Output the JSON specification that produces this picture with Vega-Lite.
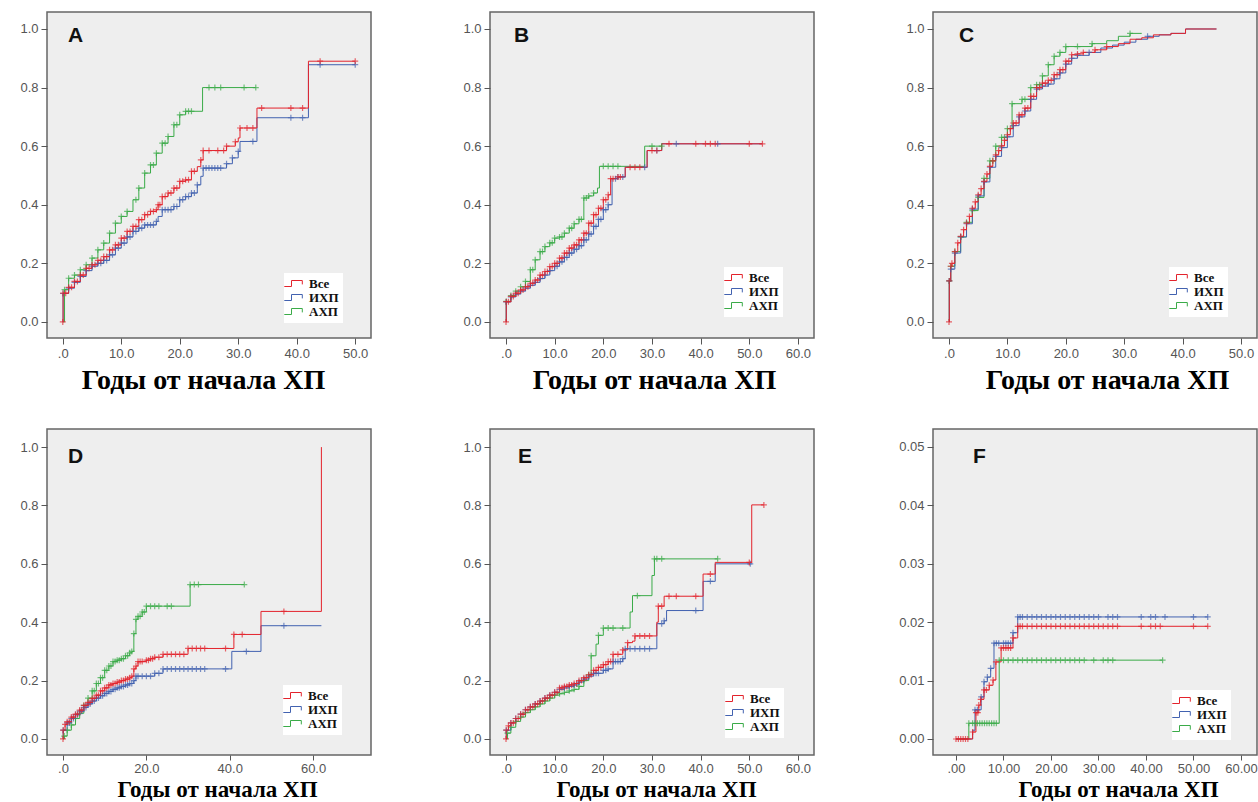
{
 "$schema": "https://vega.github.io/schema/vega-lite/v6.json",
 "background": "white",
 "padding": {"left": 19, "top": 11, "right": 0, "bottom": 0},
 "bounds": "flush",
 "columns": 3,
 "spacing": {"row": 91, "column": 119},
 "resolve": {"scale": {"color": "independent", "stroke": "independent"}, "legend": {"color": "independent", "stroke": "independent"}},
 "datasets": {
  "A": [
   {"g":"АХП","t":0,"p":0},{"g":"АХП","t":0.3,"p":0.11,"c":1},{"g":"АХП","t":1,"p":0.149,"c":1},{"g":"АХП","t":2,"p":0.16,"c":1},{"g":"АХП","t":3,"p":0.178,"c":1},{"g":"АХП","t":4,"p":0.195,"c":1},{"g":"АХП","t":5,"p":0.218,"c":1},{"g":"АХП","t":6,"p":0.246,"c":1},{"g":"АХП","t":7,"p":0.269,"c":1},{"g":"АХП","t":8,"p":0.303,"c":1},{"g":"АХП","t":9,"p":0.337,"c":1},{"g":"АХП","t":10,"p":0.36,"c":1},{"g":"АХП","t":11,"p":0.377,"c":1},{"g":"АХП","t":12,"p":0.417},{"g":"АХП","t":13,"p":0.457,"c":1},{"g":"АХП","t":14,"p":0.508,"c":1},{"g":"АХП","t":15,"p":0.536,"c":1},{"g":"АХП","t":16,"p":0.576,"c":1},{"g":"АХП","t":17,"p":0.61,"c":1},{"g":"АХП","t":18,"p":0.633,"c":1},{"g":"АХП","t":19,"p":0.673,"c":1},{"g":"АХП","t":20,"p":0.707,"c":1},{"g":"АХП","t":21,"p":0.719,"c":1},{"g":"АХП","t":22,"p":0.719,"c":1},{"g":"АХП","t":23.9,"p":0.8},{"g":"АХП","t":25,"p":0.8,"c":1},{"g":"АХП","t":26,"p":0.8,"c":1},{"g":"АХП","t":27,"p":0.8,"c":1},{"g":"АХП","t":31,"p":0.8,"c":1},{"g":"АХП","t":33,"p":0.8,"c":1},
   {"g":"АХП","t":12.5,"p":0.417,"c":1},{"g":"АХП","t":15.5,"p":0.536,"c":1},{"g":"АХП","t":17.5,"p":0.61,"c":1},{"g":"АХП","t":19.5,"p":0.673,"c":1},{"g":"АХП","t":21.5,"p":0.719,"c":1},
   {"g":"ИХП","t":0,"p":0},{"g":"ИХП","t":0.05,"p":0.097,"c":1},{"g":"ИХП","t":1,"p":0.115,"c":1},{"g":"ИХП","t":2,"p":0.135,"c":1},{"g":"ИХП","t":3,"p":0.155,"c":1},{"g":"ИХП","t":4,"p":0.175,"c":1},{"g":"ИХП","t":5,"p":0.19,"c":1},{"g":"ИХП","t":6,"p":0.2,"c":1},{"g":"ИХП","t":7,"p":0.21,"c":1},{"g":"ИХП","t":8,"p":0.229,"c":1},{"g":"ИХП","t":9,"p":0.252,"c":1},{"g":"ИХП","t":10,"p":0.269,"c":1},{"g":"ИХП","t":11,"p":0.29,"c":1},{"g":"ИХП","t":12,"p":0.309,"c":1},{"g":"ИХП","t":13,"p":0.32,"c":1},{"g":"ИХП","t":14,"p":0.331,"c":1},{"g":"ИХП","t":15,"p":0.331,"c":1},{"g":"ИХП","t":16,"p":0.343,"c":1},{"g":"ИХП","t":16.3,"p":0.36},{"g":"ИХП","t":17,"p":0.383,"c":1},{"g":"ИХП","t":18,"p":0.383,"c":1},{"g":"ИХП","t":19,"p":0.394,"c":1},{"g":"ИХП","t":20,"p":0.417,"c":1},{"g":"ИХП","t":21,"p":0.428,"c":1},{"g":"ИХП","t":22,"p":0.44,"c":1},{"g":"ИХП","t":23,"p":0.468,"c":1},{"g":"ИХП","t":23.6,"p":0.497},{"g":"ИХП","t":24,"p":0.525,"c":1},{"g":"ИХП","t":25,"p":0.525,"c":1},{"g":"ИХП","t":26,"p":0.525,"c":1},{"g":"ИХП","t":27,"p":0.525,"c":1},{"g":"ИХП","t":28,"p":0.54,"c":1},{"g":"ИХП","t":29,"p":0.56,"c":1},{"g":"ИХП","t":30,"p":0.582,"c":1},{"g":"ИХП","t":30.3,"p":0.616},{"g":"ИХП","t":32.5,"p":0.616,"c":1},{"g":"ИХП","t":33.2,"p":0.697},{"g":"ИХП","t":39,"p":0.697,"c":1},{"g":"ИХП","t":41,"p":0.697,"c":1},{"g":"ИХП","t":42,"p":0.878},{"g":"ИХП","t":44,"p":0.878,"c":1},{"g":"ИХП","t":50,"p":0.878,"c":1},
   {"g":"ИХП","t":6.5,"p":0.2,"c":1},{"g":"ИХП","t":7.5,"p":0.21,"c":1},{"g":"ИХП","t":8.5,"p":0.229,"c":1},{"g":"ИХП","t":9.5,"p":0.252,"c":1},{"g":"ИХП","t":10.5,"p":0.269,"c":1},{"g":"ИХП","t":11.5,"p":0.29,"c":1},{"g":"ИХП","t":12.5,"p":0.309,"c":1},{"g":"ИХП","t":13.5,"p":0.32,"c":1},{"g":"ИХП","t":14.5,"p":0.331,"c":1},{"g":"ИХП","t":15.5,"p":0.331,"c":1},{"g":"ИХП","t":17.5,"p":0.383,"c":1},{"g":"ИХП","t":18.5,"p":0.383,"c":1},{"g":"ИХП","t":19.5,"p":0.394,"c":1},{"g":"ИХП","t":20.5,"p":0.417,"c":1},{"g":"ИХП","t":21.5,"p":0.428,"c":1},{"g":"ИХП","t":22.5,"p":0.44,"c":1},{"g":"ИХП","t":24.5,"p":0.525,"c":1},{"g":"ИХП","t":25.5,"p":0.525,"c":1},{"g":"ИХП","t":26.5,"p":0.525,"c":1},
   {"g":"Все","t":0,"p":0,"c":1},{"g":"Все","t":0.05,"p":0.098,"c":1},{"g":"Все","t":1,"p":0.118,"c":1},{"g":"Все","t":2,"p":0.138,"c":1},{"g":"Все","t":3,"p":0.16,"c":1},{"g":"Все","t":4,"p":0.183,"c":1},{"g":"Все","t":5,"p":0.195,"c":1},{"g":"Все","t":6,"p":0.21,"c":1},{"g":"Все","t":7,"p":0.223,"c":1},{"g":"Все","t":8,"p":0.246,"c":1},{"g":"Все","t":9,"p":0.263,"c":1},{"g":"Все","t":10,"p":0.286,"c":1},{"g":"Все","t":11,"p":0.309,"c":1},{"g":"Все","t":12,"p":0.326,"c":1},{"g":"Все","t":13,"p":0.349,"c":1},{"g":"Все","t":14,"p":0.366,"c":1},{"g":"Все","t":15,"p":0.377,"c":1},{"g":"Все","t":16,"p":0.383,"c":1},{"g":"Все","t":16.3,"p":0.4,"c":1},{"g":"Все","t":17,"p":0.428,"c":1},{"g":"Все","t":18,"p":0.44,"c":1},{"g":"Все","t":19,"p":0.457,"c":1},{"g":"Все","t":20,"p":0.48,"c":1},{"g":"Все","t":21,"p":0.485,"c":1},{"g":"Все","t":22,"p":0.514,"c":1},{"g":"Все","t":23,"p":0.53},{"g":"Все","t":23.6,"p":0.553,"c":1},{"g":"Все","t":24,"p":0.585,"c":1},{"g":"Все","t":25,"p":0.585,"c":1},{"g":"Все","t":26.5,"p":0.585,"c":1},{"g":"Все","t":27.5,"p":0.585,"c":1},{"g":"Все","t":28,"p":0.6,"c":1},{"g":"Все","t":29.5,"p":0.615,"c":1},{"g":"Все","t":30,"p":0.628},{"g":"Все","t":30.3,"p":0.662,"c":1},{"g":"Все","t":31.5,"p":0.662,"c":1},{"g":"Все","t":32.5,"p":0.662,"c":1},{"g":"Все","t":33.2,"p":0.73},{"g":"Все","t":34,"p":0.73,"c":1},{"g":"Все","t":39,"p":0.73,"c":1},{"g":"Все","t":41,"p":0.73,"c":1},{"g":"Все","t":42,"p":0.89},{"g":"Все","t":44,"p":0.89,"c":1},{"g":"Все","t":50,"p":0.89,"c":1},
   {"g":"Все","t":0.5,"p":0.098,"c":1},{"g":"Все","t":1.5,"p":0.118,"c":1},{"g":"Все","t":2.5,"p":0.138,"c":1},{"g":"Все","t":3.5,"p":0.16,"c":1},{"g":"Все","t":4.5,"p":0.183,"c":1},{"g":"Все","t":5.5,"p":0.195,"c":1},{"g":"Все","t":6.5,"p":0.21,"c":1},{"g":"Все","t":7.5,"p":0.223,"c":1},{"g":"Все","t":8.5,"p":0.246,"c":1},{"g":"Все","t":9.5,"p":0.263,"c":1},{"g":"Все","t":10.5,"p":0.286,"c":1},{"g":"Все","t":11.5,"p":0.309,"c":1},{"g":"Все","t":12.5,"p":0.326,"c":1},{"g":"Все","t":13.5,"p":0.349,"c":1},{"g":"Все","t":14.5,"p":0.366,"c":1},{"g":"Все","t":15.5,"p":0.377,"c":1},{"g":"Все","t":16.6,"p":0.4,"c":1},{"g":"Все","t":17.5,"p":0.428,"c":1},{"g":"Все","t":18.5,"p":0.44,"c":1},{"g":"Все","t":19.5,"p":0.457,"c":1},{"g":"Все","t":20.5,"p":0.48,"c":1},{"g":"Все","t":21.5,"p":0.485,"c":1},{"g":"Все","t":22.5,"p":0.514,"c":1}
  ],
  "B": [
   {"g":"АХП","t":0,"p":0},{"g":"АХП","t":0.05,"p":0.07,"c":1},{"g":"АХП","t":1,"p":0.09,"c":1},{"g":"АХП","t":2,"p":0.105,"c":1},{"g":"АХП","t":3,"p":0.12,"c":1},{"g":"АХП","t":4,"p":0.138,"c":1},{"g":"АХП","t":5,"p":0.178,"c":1},{"g":"АХП","t":6,"p":0.212,"c":1},{"g":"АХП","t":7,"p":0.24,"c":1},{"g":"АХП","t":8,"p":0.257,"c":1},{"g":"АХП","t":9,"p":0.27,"c":1},{"g":"АХП","t":10,"p":0.286,"c":1},{"g":"АХП","t":11,"p":0.29,"c":1},{"g":"АХП","t":12,"p":0.303,"c":1},{"g":"АХП","t":13,"p":0.32,"c":1},{"g":"АХП","t":14,"p":0.335,"c":1},{"g":"АХП","t":15,"p":0.35,"c":1},{"g":"АХП","t":16,"p":0.423,"c":1},{"g":"АХП","t":17,"p":0.43,"c":1},{"g":"АХП","t":18,"p":0.44,"c":1},{"g":"АХП","t":18.8,"p":0.457},{"g":"АХП","t":19.2,"p":0.531},{"g":"АХП","t":20,"p":0.531,"c":1},{"g":"АХП","t":21,"p":0.531,"c":1},{"g":"АХП","t":22,"p":0.531,"c":1},{"g":"АХП","t":23,"p":0.531,"c":1},{"g":"АХП","t":28.5,"p":0.6},{"g":"АХП","t":30,"p":0.6,"c":1},{"g":"АХП","t":32,"p":0.6,"c":1},
   {"g":"АХП","t":5.5,"p":0.178,"c":1},{"g":"АХП","t":7.5,"p":0.24,"c":1},{"g":"АХП","t":9.5,"p":0.27,"c":1},{"g":"АХП","t":11.5,"p":0.29,"c":1},{"g":"АХП","t":13.5,"p":0.32,"c":1},{"g":"АХП","t":15.5,"p":0.35,"c":1},{"g":"АХП","t":16.5,"p":0.423,"c":1},
   {"g":"ИХП","t":0,"p":0},{"g":"ИХП","t":0.05,"p":0.068,"c":1},{"g":"ИХП","t":1,"p":0.085,"c":1},{"g":"ИХП","t":2,"p":0.095,"c":1},{"g":"ИХП","t":3,"p":0.105,"c":1},{"g":"ИХП","t":4,"p":0.115,"c":1},{"g":"ИХП","t":5,"p":0.125,"c":1},{"g":"ИХП","t":6,"p":0.135,"c":1},{"g":"ИХП","t":7,"p":0.148,"c":1},{"g":"ИХП","t":8,"p":0.16,"c":1},{"g":"ИХП","t":9,"p":0.175,"c":1},{"g":"ИХП","t":10,"p":0.19,"c":1},{"g":"ИХП","t":11,"p":0.205,"c":1},{"g":"ИХП","t":12,"p":0.22,"c":1},{"g":"ИХП","t":13,"p":0.235,"c":1},{"g":"ИХП","t":14,"p":0.248,"c":1},{"g":"ИХП","t":15,"p":0.26,"c":1},{"g":"ИХП","t":16,"p":0.28,"c":1},{"g":"ИХП","t":17,"p":0.3,"c":1},{"g":"ИХП","t":18,"p":0.326,"c":1},{"g":"ИХП","t":19,"p":0.35,"c":1},{"g":"ИХП","t":20,"p":0.383,"c":1},{"g":"ИХП","t":21,"p":0.4,"c":1},{"g":"ИХП","t":21.8,"p":0.489},{"g":"ИХП","t":22.5,"p":0.489,"c":1},{"g":"ИХП","t":23,"p":0.495,"c":1},{"g":"ИХП","t":24,"p":0.495,"c":1},{"g":"ИХП","t":24.5,"p":0.528},{"g":"ИХП","t":28.5,"p":0.528,"c":1},{"g":"ИХП","t":29,"p":0.585},{"g":"ИХП","t":31,"p":0.585,"c":1},{"g":"ИХП","t":32,"p":0.608},{"g":"ИХП","t":35,"p":0.608,"c":1},{"g":"ИХП","t":43.5,"p":0.608,"c":1},{"g":"ИХП","t":52.7,"p":0.608},
   {"g":"ИХП","t":10.5,"p":0.19,"c":1},{"g":"ИХП","t":11.5,"p":0.205,"c":1},{"g":"ИХП","t":12.5,"p":0.22,"c":1},{"g":"ИХП","t":13.5,"p":0.235,"c":1},{"g":"ИХП","t":14.5,"p":0.248,"c":1},{"g":"ИХП","t":15.5,"p":0.26,"c":1},{"g":"ИХП","t":16.5,"p":0.28,"c":1},{"g":"ИХП","t":17.5,"p":0.3,"c":1},{"g":"ИХП","t":18.5,"p":0.326,"c":1},{"g":"ИХП","t":19.5,"p":0.35,"c":1},{"g":"ИХП","t":20.5,"p":0.383,"c":1},
   {"g":"Все","t":0,"p":0,"c":1},{"g":"Все","t":0.05,"p":0.069,"c":1},{"g":"Все","t":1,"p":0.087,"c":1},{"g":"Все","t":2,"p":0.098,"c":1},{"g":"Все","t":3,"p":0.109,"c":1},{"g":"Все","t":4,"p":0.12,"c":1},{"g":"Все","t":5,"p":0.132,"c":1},{"g":"Все","t":6,"p":0.143,"c":1},{"g":"Все","t":7,"p":0.16,"c":1},{"g":"Все","t":8,"p":0.172,"c":1},{"g":"Все","t":9,"p":0.189,"c":1},{"g":"Все","t":10,"p":0.2,"c":1},{"g":"Все","t":11,"p":0.218,"c":1},{"g":"Все","t":12,"p":0.235,"c":1},{"g":"Все","t":13,"p":0.252,"c":1},{"g":"Все","t":14,"p":0.263,"c":1},{"g":"Все","t":15,"p":0.28,"c":1},{"g":"Все","t":16,"p":0.303,"c":1},{"g":"Все","t":17,"p":0.337,"c":1},{"g":"Все","t":18,"p":0.366,"c":1},{"g":"Все","t":19,"p":0.388,"c":1},{"g":"Все","t":20,"p":0.417,"c":1},{"g":"Все","t":21,"p":0.434,"c":1},{"g":"Все","t":21.5,"p":0.489,"c":1},{"g":"Все","t":22,"p":0.489,"c":1},{"g":"Все","t":23,"p":0.495,"c":1},{"g":"Все","t":23.5,"p":0.495,"c":1},{"g":"Все","t":24.5,"p":0.528},{"g":"Все","t":25.5,"p":0.528,"c":1},{"g":"Все","t":26.5,"p":0.528,"c":1},{"g":"Все","t":27.5,"p":0.528,"c":1},{"g":"Все","t":29,"p":0.585},{"g":"Все","t":30,"p":0.585,"c":1},{"g":"Все","t":31,"p":0.585,"c":1},{"g":"Все","t":32,"p":0.608},{"g":"Все","t":33.5,"p":0.608,"c":1},{"g":"Все","t":39,"p":0.608,"c":1},{"g":"Все","t":41,"p":0.608,"c":1},{"g":"Все","t":42,"p":0.608,"c":1},{"g":"Все","t":43,"p":0.608,"c":1},{"g":"Все","t":50,"p":0.608,"c":1},{"g":"Все","t":52.7,"p":0.608,"c":1},
   {"g":"Все","t":0.5,"p":0.069,"c":1},{"g":"Все","t":1.5,"p":0.087,"c":1},{"g":"Все","t":2.5,"p":0.098,"c":1},{"g":"Все","t":3.5,"p":0.109,"c":1},{"g":"Все","t":4.5,"p":0.12,"c":1},{"g":"Все","t":5.5,"p":0.132,"c":1},{"g":"Все","t":6.5,"p":0.143,"c":1},{"g":"Все","t":7.5,"p":0.16,"c":1},{"g":"Все","t":8.5,"p":0.172,"c":1},{"g":"Все","t":9.5,"p":0.189,"c":1},{"g":"Все","t":10.5,"p":0.2,"c":1},{"g":"Все","t":11.5,"p":0.218,"c":1},{"g":"Все","t":12.5,"p":0.235,"c":1},{"g":"Все","t":13.5,"p":0.252,"c":1},{"g":"Все","t":14.5,"p":0.263,"c":1},{"g":"Все","t":15.5,"p":0.28,"c":1},{"g":"Все","t":16.5,"p":0.303,"c":1},{"g":"Все","t":17.5,"p":0.337,"c":1},{"g":"Все","t":18.5,"p":0.366,"c":1},{"g":"Все","t":19.5,"p":0.388,"c":1},{"g":"Все","t":20.5,"p":0.417,"c":1}
  ],
  "C": [
   {"g":"АХП","t":0,"p":0},{"g":"АХП","t":0.05,"p":0.14,"c":1},{"g":"АХП","t":0.3,"p":0.19,"c":1},{"g":"АХП","t":1,"p":0.24,"c":1},{"g":"АХП","t":2,"p":0.29,"c":1},{"g":"АХП","t":3,"p":0.34,"c":1},{"g":"АХП","t":4,"p":0.38,"c":1},{"g":"АХП","t":5,"p":0.425,"c":1},{"g":"АХП","t":6,"p":0.49,"c":1},{"g":"АХП","t":7,"p":0.55,"c":1},{"g":"АХП","t":8,"p":0.6,"c":1},{"g":"АХП","t":9,"p":0.63,"c":1},{"g":"АХП","t":10,"p":0.66,"c":1},{"g":"АХП","t":10.8,"p":0.745,"c":1},{"g":"АХП","t":12.5,"p":0.76,"c":1},{"g":"АХП","t":14,"p":0.8,"c":1},{"g":"АХП","t":15,"p":0.81,"c":1},{"g":"АХП","t":16,"p":0.84,"c":1},{"g":"АХП","t":17,"p":0.878,"c":1},{"g":"АХП","t":18,"p":0.907,"c":1},{"g":"АХП","t":19,"p":0.92,"c":1},{"g":"АХП","t":20,"p":0.94,"c":1},{"g":"АХП","t":22,"p":0.94,"c":1},{"g":"АХП","t":24.5,"p":0.95,"c":1},{"g":"АХП","t":27,"p":0.96},{"g":"АХП","t":29,"p":0.975},{"g":"АХП","t":31,"p":0.985,"c":1},{"g":"АХП","t":33,"p":0.985},
   {"g":"АХП","t":7.5,"p":0.55,"c":1},{"g":"АХП","t":9.5,"p":0.63,"c":1},{"g":"АХП","t":13,"p":0.76,"c":1},{"g":"АХП","t":15.5,"p":0.81,"c":1},
   {"g":"ИХП","t":0,"p":0},{"g":"ИХП","t":0.05,"p":0.14,"c":1},{"g":"ИХП","t":0.3,"p":0.18,"c":1},{"g":"ИХП","t":1,"p":0.235,"c":1},{"g":"ИХП","t":2,"p":0.29,"c":1},{"g":"ИХП","t":3,"p":0.335,"c":1},{"g":"ИХП","t":4,"p":0.385,"c":1},{"g":"ИХП","t":5,"p":0.43,"c":1},{"g":"ИХП","t":6,"p":0.478,"c":1},{"g":"ИХП","t":7,"p":0.528,"c":1},{"g":"ИХП","t":8,"p":0.565,"c":1},{"g":"ИХП","t":9,"p":0.595,"c":1},{"g":"ИХП","t":10,"p":0.632,"c":1},{"g":"ИХП","t":11,"p":0.67,"c":1},{"g":"ИХП","t":12,"p":0.7,"c":1},{"g":"ИХП","t":13,"p":0.72,"c":1},{"g":"ИХП","t":14,"p":0.76,"c":1},{"g":"ИХП","t":15,"p":0.795,"c":1},{"g":"ИХП","t":16,"p":0.805,"c":1},{"g":"ИХП","t":17,"p":0.812,"c":1},{"g":"ИХП","t":18,"p":0.83,"c":1},{"g":"ИХП","t":19,"p":0.85,"c":1},{"g":"ИХП","t":20,"p":0.88,"c":1},{"g":"ИХП","t":21,"p":0.9,"c":1},{"g":"ИХП","t":22,"p":0.91,"c":1},{"g":"ИХП","t":24,"p":0.92,"c":1},{"g":"ИХП","t":26,"p":0.935},{"g":"ИХП","t":28,"p":0.945},{"g":"ИХП","t":30,"p":0.955},{"g":"ИХП","t":32,"p":0.965},{"g":"ИХП","t":34,"p":0.975,"c":1},{"g":"ИХП","t":36,"p":0.98},{"g":"ИХП","t":38,"p":0.985},{"g":"ИХП","t":40.5,"p":1.0},{"g":"ИХП","t":45.8,"p":1.0},
   {"g":"Все","t":0,"p":0,"c":1},{"g":"Все","t":0.05,"p":0.14,"c":1},{"g":"Все","t":0.3,"p":0.19,"c":1},{"g":"Все","t":0.5,"p":0.2,"c":1},{"g":"Все","t":1,"p":0.24,"c":1},{"g":"Все","t":1.5,"p":0.27,"c":1},{"g":"Все","t":2,"p":0.292,"c":1},{"g":"Все","t":2.5,"p":0.315,"c":1},{"g":"Все","t":3,"p":0.337,"c":1},{"g":"Все","t":3.5,"p":0.36,"c":1},{"g":"Все","t":4,"p":0.388,"c":1},{"g":"Все","t":4.5,"p":0.41,"c":1},{"g":"Все","t":5,"p":0.434,"c":1},{"g":"Все","t":5.5,"p":0.455,"c":1},{"g":"Все","t":6,"p":0.48,"c":1},{"g":"Все","t":6.5,"p":0.505,"c":1},{"g":"Все","t":7,"p":0.531,"c":1},{"g":"Все","t":7.5,"p":0.55,"c":1},{"g":"Все","t":8,"p":0.57,"c":1},{"g":"Все","t":8.5,"p":0.585,"c":1},{"g":"Все","t":9,"p":0.601,"c":1},{"g":"Все","t":9.5,"p":0.62,"c":1},{"g":"Все","t":10,"p":0.639,"c":1},{"g":"Все","t":10.5,"p":0.66,"c":1},{"g":"Все","t":11,"p":0.679,"c":1},{"g":"Все","t":12,"p":0.707,"c":1},{"g":"Все","t":13,"p":0.73,"c":1},{"g":"Все","t":14,"p":0.77,"c":1},{"g":"Все","t":15,"p":0.8,"c":1},{"g":"Все","t":16,"p":0.815,"c":1},{"g":"Все","t":17,"p":0.825,"c":1},{"g":"Все","t":18,"p":0.844,"c":1},{"g":"Все","t":19,"p":0.861,"c":1},{"g":"Все","t":20,"p":0.89,"c":1},{"g":"Все","t":21,"p":0.912,"c":1},{"g":"Все","t":22,"p":0.915,"c":1},{"g":"Все","t":23,"p":0.92,"c":1},{"g":"Все","t":25,"p":0.929,"c":1},{"g":"Все","t":27,"p":0.94,"c":1},{"g":"Все","t":29,"p":0.95},{"g":"Все","t":31,"p":0.965},{"g":"Все","t":33,"p":0.97},{"g":"Все","t":35,"p":0.98},{"g":"Все","t":38,"p":0.985},{"g":"Все","t":40.5,"p":1.0},{"g":"Все","t":45.8,"p":1.0},
   {"g":"Все","t":11.5,"p":0.679,"c":1},{"g":"Все","t":12.5,"p":0.707,"c":1},{"g":"Все","t":13.5,"p":0.73,"c":1},{"g":"Все","t":14.5,"p":0.77,"c":1},{"g":"Все","t":15.5,"p":0.8,"c":1},{"g":"Все","t":16.5,"p":0.815,"c":1},{"g":"Все","t":17.5,"p":0.825,"c":1},{"g":"Все","t":18.5,"p":0.844,"c":1},{"g":"Все","t":19.5,"p":0.861,"c":1},{"g":"Все","t":20.5,"p":0.89,"c":1}
  ],
  "D": [
   {"g":"АХП","t":0,"p":0},{"g":"АХП","t":0.3,"p":0.01,"c":1},{"g":"АХП","t":1,"p":0.03,"c":1},{"g":"АХП","t":2,"p":0.048,"c":1},{"g":"АХП","t":3,"p":0.07,"c":1},{"g":"АХП","t":4,"p":0.088,"c":1},{"g":"АХП","t":5,"p":0.115,"c":1},{"g":"АХП","t":6,"p":0.14,"c":1},{"g":"АХП","t":7,"p":0.165,"c":1},{"g":"АХП","t":8,"p":0.19,"c":1},{"g":"АХП","t":9,"p":0.21,"c":1},{"g":"АХП","t":10,"p":0.235,"c":1},{"g":"АХП","t":11,"p":0.25,"c":1},{"g":"АХП","t":12,"p":0.265,"c":1},{"g":"АХП","t":13,"p":0.27,"c":1},{"g":"АХП","t":14,"p":0.275,"c":1},{"g":"АХП","t":15,"p":0.285,"c":1},{"g":"АХП","t":16,"p":0.295,"c":1},{"g":"АХП","t":16.5,"p":0.3,"c":1},{"g":"АХП","t":17,"p":0.361,"c":1},{"g":"АХП","t":17.5,"p":0.41,"c":1},{"g":"АХП","t":18,"p":0.42,"c":1},{"g":"АХП","t":19,"p":0.435,"c":1},{"g":"АХП","t":20,"p":0.455,"c":1},{"g":"АХП","t":21,"p":0.455,"c":1},{"g":"АХП","t":22,"p":0.455,"c":1},{"g":"АХП","t":23,"p":0.455,"c":1},{"g":"АХП","t":25,"p":0.455,"c":1},{"g":"АХП","t":26,"p":0.455,"c":1},{"g":"АХП","t":30.5,"p":0.529,"c":1},{"g":"АХП","t":31.5,"p":0.529,"c":1},{"g":"АХП","t":32.5,"p":0.529,"c":1},{"g":"АХП","t":43.5,"p":0.529,"c":1},
   {"g":"АХП","t":7.5,"p":0.165,"c":1},{"g":"АХП","t":8.5,"p":0.19,"c":1},{"g":"АХП","t":9.5,"p":0.21,"c":1},{"g":"АХП","t":10.5,"p":0.235,"c":1},{"g":"АХП","t":11.5,"p":0.25,"c":1},{"g":"АХП","t":12.5,"p":0.265,"c":1},{"g":"АХП","t":13.5,"p":0.27,"c":1},{"g":"АХП","t":14.5,"p":0.275,"c":1},{"g":"АХП","t":15.5,"p":0.285,"c":1},{"g":"АХП","t":18.5,"p":0.42,"c":1},{"g":"АХП","t":19.5,"p":0.435,"c":1},
   {"g":"ИХП","t":0,"p":0},{"g":"ИХП","t":0.05,"p":0.03,"c":1},{"g":"ИХП","t":1,"p":0.055,"c":1},{"g":"ИХП","t":2,"p":0.07,"c":1},{"g":"ИХП","t":3,"p":0.083,"c":1},{"g":"ИХП","t":4,"p":0.095,"c":1},{"g":"ИХП","t":5,"p":0.108,"c":1},{"g":"ИХП","t":6,"p":0.12,"c":1},{"g":"ИХП","t":7,"p":0.13,"c":1},{"g":"ИХП","t":8,"p":0.14,"c":1},{"g":"ИХП","t":9,"p":0.148,"c":1},{"g":"ИХП","t":10,"p":0.156,"c":1},{"g":"ИХП","t":11,"p":0.163,"c":1},{"g":"ИХП","t":12,"p":0.17,"c":1},{"g":"ИХП","t":13,"p":0.175,"c":1},{"g":"ИХП","t":14,"p":0.18,"c":1},{"g":"ИХП","t":15,"p":0.185,"c":1},{"g":"ИХП","t":16,"p":0.19,"c":1},{"g":"ИХП","t":17,"p":0.2,"c":1},{"g":"ИХП","t":17.5,"p":0.215,"c":1},{"g":"ИХП","t":19,"p":0.215,"c":1},{"g":"ИХП","t":20,"p":0.215,"c":1},{"g":"ИХП","t":21,"p":0.215,"c":1},{"g":"ИХП","t":22,"p":0.225,"c":1},{"g":"ИХП","t":24,"p":0.24,"c":1},{"g":"ИХП","t":25,"p":0.24,"c":1},{"g":"ИХП","t":26,"p":0.24,"c":1},{"g":"ИХП","t":28,"p":0.24,"c":1},{"g":"ИХП","t":29,"p":0.24,"c":1},{"g":"ИХП","t":32,"p":0.24,"c":1},{"g":"ИХП","t":33,"p":0.24,"c":1},{"g":"ИХП","t":34,"p":0.24,"c":1},{"g":"ИХП","t":39,"p":0.24,"c":1},{"g":"ИХП","t":40.5,"p":0.3},{"g":"ИХП","t":44,"p":0.3,"c":1},{"g":"ИХП","t":47.5,"p":0.388},{"g":"ИХП","t":53,"p":0.388,"c":1},{"g":"ИХП","t":62,"p":0.388},
   {"g":"ИХП","t":1.5,"p":0.055,"c":1},{"g":"ИХП","t":2.5,"p":0.07,"c":1},{"g":"ИХП","t":3.5,"p":0.083,"c":1},{"g":"ИХП","t":4.5,"p":0.095,"c":1},{"g":"ИХП","t":5.5,"p":0.108,"c":1},{"g":"ИХП","t":6.5,"p":0.12,"c":1},{"g":"ИХП","t":7.5,"p":0.13,"c":1},{"g":"ИХП","t":8.5,"p":0.14,"c":1},{"g":"ИХП","t":9.5,"p":0.148,"c":1},{"g":"ИХП","t":10.5,"p":0.156,"c":1},{"g":"ИХП","t":11.5,"p":0.163,"c":1},{"g":"ИХП","t":12.5,"p":0.17,"c":1},{"g":"ИХП","t":13.5,"p":0.175,"c":1},{"g":"ИХП","t":14.5,"p":0.18,"c":1},{"g":"ИХП","t":15.5,"p":0.185,"c":1},{"g":"ИХП","t":16.5,"p":0.19,"c":1},{"g":"ИХП","t":18,"p":0.215,"c":1},{"g":"ИХП","t":23,"p":0.225,"c":1},{"g":"ИХП","t":27,"p":0.24,"c":1},{"g":"ИХП","t":30,"p":0.24,"c":1},{"g":"ИХП","t":31,"p":0.24,"c":1},
   {"g":"Все","t":0,"p":0,"c":1},{"g":"Все","t":0.05,"p":0.03,"c":1},{"g":"Все","t":0.5,"p":0.05,"c":1},{"g":"Все","t":1,"p":0.059,"c":1},{"g":"Все","t":2,"p":0.075,"c":1},{"g":"Все","t":3,"p":0.085,"c":1},{"g":"Все","t":4,"p":0.099,"c":1},{"g":"Все","t":5,"p":0.115,"c":1},{"g":"Все","t":6,"p":0.125,"c":1},{"g":"Все","t":7,"p":0.139,"c":1},{"g":"Все","t":8,"p":0.15,"c":1},{"g":"Все","t":9,"p":0.165,"c":1},{"g":"Все","t":10,"p":0.175,"c":1},{"g":"Все","t":11,"p":0.185,"c":1},{"g":"Все","t":12,"p":0.19,"c":1},{"g":"Все","t":13,"p":0.195,"c":1},{"g":"Все","t":14,"p":0.2,"c":1},{"g":"Все","t":15,"p":0.205,"c":1},{"g":"Все","t":16,"p":0.21,"c":1},{"g":"Все","t":16.5,"p":0.215,"c":1},{"g":"Все","t":17,"p":0.24,"c":1},{"g":"Все","t":17.5,"p":0.25,"c":1},{"g":"Все","t":18,"p":0.265,"c":1},{"g":"Все","t":19,"p":0.265,"c":1},{"g":"Все","t":20,"p":0.27,"c":1},{"g":"Все","t":21,"p":0.275,"c":1},{"g":"Все","t":22,"p":0.28,"c":1},{"g":"Все","t":24,"p":0.29,"c":1},{"g":"Все","t":25,"p":0.29,"c":1},{"g":"Все","t":26,"p":0.29,"c":1},{"g":"Все","t":27,"p":0.29,"c":1},{"g":"Все","t":28,"p":0.29,"c":1},{"g":"Все","t":30,"p":0.31,"c":1},{"g":"Все","t":31,"p":0.31,"c":1},{"g":"Все","t":32,"p":0.31,"c":1},{"g":"Все","t":33,"p":0.31,"c":1},{"g":"Все","t":34,"p":0.31,"c":1},{"g":"Все","t":39,"p":0.31,"c":1},{"g":"Все","t":41,"p":0.358,"c":1},{"g":"Все","t":43,"p":0.358,"c":1},{"g":"Все","t":47.5,"p":0.437},{"g":"Все","t":53,"p":0.437,"c":1},{"g":"Все","t":62,"p":1.0},
   {"g":"Все","t":1.5,"p":0.059,"c":1},{"g":"Все","t":2.5,"p":0.075,"c":1},{"g":"Все","t":3.5,"p":0.085,"c":1},{"g":"Все","t":4.5,"p":0.099,"c":1},{"g":"Все","t":5.5,"p":0.115,"c":1},{"g":"Все","t":6.5,"p":0.125,"c":1},{"g":"Все","t":7.5,"p":0.139,"c":1},{"g":"Все","t":8.5,"p":0.15,"c":1},{"g":"Все","t":9.5,"p":0.165,"c":1},{"g":"Все","t":10.5,"p":0.175,"c":1},{"g":"Все","t":11.5,"p":0.185,"c":1},{"g":"Все","t":12.5,"p":0.19,"c":1},{"g":"Все","t":13.5,"p":0.195,"c":1},{"g":"Все","t":14.5,"p":0.2,"c":1},{"g":"Все","t":15.5,"p":0.205,"c":1},{"g":"Все","t":18.5,"p":0.265,"c":1},{"g":"Все","t":20.5,"p":0.27,"c":1},{"g":"Все","t":21.5,"p":0.275,"c":1},{"g":"Все","t":23,"p":0.28,"c":1},{"g":"Все","t":29,"p":0.29,"c":1}
  ],
  "E": [
   {"g":"АХП","t":0,"p":0},{"g":"АХП","t":0.3,"p":0.02,"c":1},{"g":"АХП","t":1,"p":0.04,"c":1},{"g":"АХП","t":2,"p":0.06,"c":1},{"g":"АХП","t":3,"p":0.075,"c":1},{"g":"АХП","t":4,"p":0.09,"c":1},{"g":"АХП","t":5,"p":0.1,"c":1},{"g":"АХП","t":6,"p":0.11,"c":1},{"g":"АХП","t":7,"p":0.12,"c":1},{"g":"АХП","t":8,"p":0.13,"c":1},{"g":"АХП","t":9,"p":0.14,"c":1},{"g":"АХП","t":10,"p":0.15,"c":1},{"g":"АХП","t":11,"p":0.155,"c":1},{"g":"АХП","t":12,"p":0.16,"c":1},{"g":"АХП","t":13,"p":0.165,"c":1},{"g":"АХП","t":14,"p":0.17,"c":1},{"g":"АХП","t":15,"p":0.18,"c":1},{"g":"АХП","t":16,"p":0.2,"c":1},{"g":"АХП","t":17,"p":0.22,"c":1},{"g":"АХП","t":17.5,"p":0.285,"c":1},{"g":"АХП","t":18.5,"p":0.325},{"g":"АХП","t":19,"p":0.355,"c":1},{"g":"АХП","t":20,"p":0.38,"c":1},{"g":"АХП","t":21,"p":0.38,"c":1},{"g":"АХП","t":22,"p":0.38,"c":1},{"g":"АХП","t":24,"p":0.38,"c":1},{"g":"АХП","t":25.5,"p":0.435},{"g":"АХП","t":26,"p":0.491},{"g":"АХП","t":27,"p":0.491,"c":1},{"g":"АХП","t":30,"p":0.56},{"g":"АХП","t":30.5,"p":0.617,"c":1},{"g":"АХП","t":31,"p":0.617,"c":1},{"g":"АХП","t":32,"p":0.617,"c":1},{"g":"АХП","t":43.5,"p":0.617,"c":1},
   {"g":"ИХП","t":0,"p":0},{"g":"ИХП","t":0.05,"p":0.03,"c":1},{"g":"ИХП","t":1,"p":0.055,"c":1},{"g":"ИХП","t":2,"p":0.07,"c":1},{"g":"ИХП","t":3,"p":0.085,"c":1},{"g":"ИХП","t":4,"p":0.1,"c":1},{"g":"ИХП","t":5,"p":0.11,"c":1},{"g":"ИХП","t":6,"p":0.12,"c":1},{"g":"ИХП","t":7,"p":0.13,"c":1},{"g":"ИХП","t":8,"p":0.14,"c":1},{"g":"ИХП","t":9,"p":0.15,"c":1},{"g":"ИХП","t":10,"p":0.16,"c":1},{"g":"ИХП","t":11,"p":0.17,"c":1},{"g":"ИХП","t":12,"p":0.175,"c":1},{"g":"ИХП","t":13,"p":0.18,"c":1},{"g":"ИХП","t":14,"p":0.185,"c":1},{"g":"ИХП","t":15,"p":0.195,"c":1},{"g":"ИХП","t":16,"p":0.205,"c":1},{"g":"ИХП","t":17,"p":0.215,"c":1},{"g":"ИХП","t":18,"p":0.225,"c":1},{"g":"ИХП","t":20,"p":0.235,"c":1},{"g":"ИХП","t":21,"p":0.24,"c":1},{"g":"ИХП","t":22,"p":0.265,"c":1},{"g":"ИХП","t":24,"p":0.275,"c":1},{"g":"ИХП","t":24.5,"p":0.309,"c":1},{"g":"ИХП","t":25.5,"p":0.309,"c":1},{"g":"ИХП","t":26.5,"p":0.309,"c":1},{"g":"ИХП","t":27.5,"p":0.309,"c":1},{"g":"ИХП","t":28.5,"p":0.309,"c":1},{"g":"ИХП","t":29.5,"p":0.309,"c":1},{"g":"ИХП","t":31,"p":0.395},{"g":"ИХП","t":32,"p":0.395,"c":1},{"g":"ИХП","t":32.5,"p":0.405,"c":1},{"g":"ИХП","t":33,"p":0.44},{"g":"ИХП","t":39,"p":0.44,"c":1},{"g":"ИХП","t":40.5,"p":0.54},{"g":"ИХП","t":42,"p":0.54,"c":1},{"g":"ИХП","t":43,"p":0.6},{"g":"ИХП","t":50.2,"p":0.6,"c":1},{"g":"ИХП","t":50.5,"p":0.6},
   {"g":"ИХП","t":18.5,"p":0.225,"c":1},{"g":"ИХП","t":19,"p":0.225,"c":1},{"g":"ИХП","t":20.5,"p":0.235,"c":1},{"g":"ИХП","t":22.5,"p":0.265,"c":1},{"g":"ИХП","t":23,"p":0.265,"c":1},{"g":"ИХП","t":23.5,"p":0.265,"c":1},
   {"g":"Все","t":0,"p":0,"c":1},{"g":"Все","t":0.05,"p":0.03,"c":1},{"g":"Все","t":0.5,"p":0.045,"c":1},{"g":"Все","t":1,"p":0.055,"c":1},{"g":"Все","t":2,"p":0.07,"c":1},{"g":"Все","t":3,"p":0.085,"c":1},{"g":"Все","t":4,"p":0.1,"c":1},{"g":"Все","t":5,"p":0.11,"c":1},{"g":"Все","t":6,"p":0.12,"c":1},{"g":"Все","t":7,"p":0.13,"c":1},{"g":"Все","t":8,"p":0.14,"c":1},{"g":"Все","t":9,"p":0.15,"c":1},{"g":"Все","t":10,"p":0.16,"c":1},{"g":"Все","t":11,"p":0.175,"c":1},{"g":"Все","t":12,"p":0.18,"c":1},{"g":"Все","t":13,"p":0.185,"c":1},{"g":"Все","t":14,"p":0.19,"c":1},{"g":"Все","t":15,"p":0.2,"c":1},{"g":"Все","t":16,"p":0.21,"c":1},{"g":"Все","t":17,"p":0.22,"c":1},{"g":"Все","t":18,"p":0.235,"c":1},{"g":"Все","t":19,"p":0.245,"c":1},{"g":"Все","t":20,"p":0.255,"c":1},{"g":"Все","t":21,"p":0.265,"c":1},{"g":"Все","t":22,"p":0.29,"c":1},{"g":"Все","t":23,"p":0.29,"c":1},{"g":"Все","t":24,"p":0.305,"c":1},{"g":"Все","t":25,"p":0.33,"c":1},{"g":"Все","t":26,"p":0.335},{"g":"Все","t":26.5,"p":0.353,"c":1},{"g":"Все","t":27.5,"p":0.353,"c":1},{"g":"Все","t":28.5,"p":0.353,"c":1},{"g":"Все","t":29.5,"p":0.353,"c":1},{"g":"Все","t":31,"p":0.4},{"g":"Все","t":31.3,"p":0.455,"c":1},{"g":"Все","t":32,"p":0.455,"c":1},{"g":"Все","t":32.5,"p":0.489},{"g":"Все","t":33.5,"p":0.489,"c":1},{"g":"Все","t":35,"p":0.489,"c":1},{"g":"Все","t":39,"p":0.489,"c":1},{"g":"Все","t":40.5,"p":0.565},{"g":"Все","t":42,"p":0.565,"c":1},{"g":"Все","t":43,"p":0.605},{"g":"Все","t":50,"p":0.605,"c":1},{"g":"Все","t":50.5,"p":0.802},{"g":"Все","t":53,"p":0.802,"c":1},
   {"g":"Все","t":1.5,"p":0.055,"c":1},{"g":"Все","t":2.5,"p":0.07,"c":1},{"g":"Все","t":3.5,"p":0.085,"c":1},{"g":"Все","t":4.5,"p":0.1,"c":1},{"g":"Все","t":5.5,"p":0.11,"c":1},{"g":"Все","t":6.5,"p":0.12,"c":1},{"g":"Все","t":7.5,"p":0.13,"c":1},{"g":"Все","t":8.5,"p":0.14,"c":1},{"g":"Все","t":9.5,"p":0.15,"c":1},{"g":"Все","t":10.5,"p":0.16,"c":1},{"g":"Все","t":11.5,"p":0.175,"c":1},{"g":"Все","t":12.5,"p":0.18,"c":1},{"g":"Все","t":13.5,"p":0.185,"c":1},{"g":"Все","t":14.5,"p":0.19,"c":1},{"g":"Все","t":15.5,"p":0.2,"c":1},{"g":"Все","t":16.5,"p":0.21,"c":1},{"g":"Все","t":17.5,"p":0.22,"c":1},{"g":"Все","t":18.5,"p":0.235,"c":1},{"g":"Все","t":19.5,"p":0.245,"c":1},{"g":"Все","t":20.5,"p":0.255,"c":1},{"g":"Все","t":21.5,"p":0.265,"c":1}
  ],
  "F": [
   {"g":"АХП","t":0,"p":0},{"g":"АХП","t":2.7,"p":0.0027,"c":1},{"g":"АХП","t":3.5,"p":0.0027,"c":1},{"g":"АХП","t":4,"p":0.0027,"c":1},{"g":"АХП","t":4.5,"p":0.0027,"c":1},{"g":"АХП","t":5,"p":0.0027,"c":1},{"g":"АХП","t":5.5,"p":0.0027,"c":1},{"g":"АХП","t":6,"p":0.0027,"c":1},{"g":"АХП","t":6.5,"p":0.0027,"c":1},{"g":"АХП","t":7,"p":0.0027,"c":1},{"g":"АХП","t":7.5,"p":0.0027,"c":1},{"g":"АХП","t":8,"p":0.0027,"c":1},{"g":"АХП","t":8.5,"p":0.0027,"c":1},{"g":"АХП","t":9.1,"p":0.0135,"c":1},{"g":"АХП","t":10,"p":0.0135,"c":1},{"g":"АХП","t":11,"p":0.0135,"c":1},{"g":"АХП","t":12,"p":0.0135,"c":1},{"g":"АХП","t":13,"p":0.0135,"c":1},{"g":"АХП","t":14,"p":0.0135,"c":1},{"g":"АХП","t":15,"p":0.0135,"c":1},{"g":"АХП","t":16,"p":0.0135,"c":1},{"g":"АХП","t":17,"p":0.0135,"c":1},{"g":"АХП","t":18,"p":0.0135,"c":1},{"g":"АХП","t":19,"p":0.0135,"c":1},{"g":"АХП","t":20,"p":0.0135,"c":1},{"g":"АХП","t":21,"p":0.0135,"c":1},{"g":"АХП","t":22,"p":0.0135,"c":1},{"g":"АХП","t":23,"p":0.0135,"c":1},{"g":"АХП","t":24,"p":0.0135,"c":1},{"g":"АХП","t":25,"p":0.0135,"c":1},{"g":"АХП","t":26,"p":0.0135,"c":1},{"g":"АХП","t":27,"p":0.0135,"c":1},{"g":"АХП","t":29,"p":0.0135,"c":1},{"g":"АХП","t":31,"p":0.0135,"c":1},{"g":"АХП","t":32,"p":0.0135,"c":1},{"g":"АХП","t":33,"p":0.0135,"c":1},{"g":"АХП","t":43.5,"p":0.0135,"c":1},
   {"g":"ИХП","t":0,"p":0},{"g":"ИХП","t":3.5,"p":0.0015},{"g":"ИХП","t":4,"p":0.005,"c":1},{"g":"ИХП","t":4.5,"p":0.005,"c":1},{"g":"ИХП","t":5.3,"p":0.0072,"c":1},{"g":"ИХП","t":5.9,"p":0.0098,"c":1},{"g":"ИХП","t":6.6,"p":0.0106,"c":1},{"g":"ИХП","t":7.3,"p":0.0121,"c":1},{"g":"ИХП","t":8,"p":0.0164,"c":1},{"g":"ИХП","t":8.5,"p":0.0164,"c":1},{"g":"ИХП","t":9,"p":0.0164,"c":1},{"g":"ИХП","t":10,"p":0.0164,"c":1},{"g":"ИХП","t":10.5,"p":0.0164,"c":1},{"g":"ИХП","t":11,"p":0.0164,"c":1},{"g":"ИХП","t":11.5,"p":0.0164,"c":1},{"g":"ИХП","t":12,"p":0.0182,"c":1},{"g":"ИХП","t":13,"p":0.0209,"c":1},{"g":"ИХП","t":13.5,"p":0.0209,"c":1},{"g":"ИХП","t":14,"p":0.0209,"c":1},{"g":"ИХП","t":15,"p":0.0209,"c":1},{"g":"ИХП","t":16,"p":0.0209,"c":1},{"g":"ИХП","t":17,"p":0.0209,"c":1},{"g":"ИХП","t":18,"p":0.0209,"c":1},{"g":"ИХП","t":19,"p":0.0209,"c":1},{"g":"ИХП","t":20,"p":0.0209,"c":1},{"g":"ИХП","t":21,"p":0.0209,"c":1},{"g":"ИХП","t":22,"p":0.0209,"c":1},{"g":"ИХП","t":23,"p":0.0209,"c":1},{"g":"ИХП","t":24,"p":0.0209,"c":1},{"g":"ИХП","t":25,"p":0.0209,"c":1},{"g":"ИХП","t":26,"p":0.0209,"c":1},{"g":"ИХП","t":27,"p":0.0209,"c":1},{"g":"ИХП","t":28,"p":0.0209,"c":1},{"g":"ИХП","t":29,"p":0.0209,"c":1},{"g":"ИХП","t":30,"p":0.0209,"c":1},{"g":"ИХП","t":32,"p":0.0209,"c":1},{"g":"ИХП","t":33,"p":0.0209,"c":1},{"g":"ИХП","t":34,"p":0.0209,"c":1},{"g":"ИХП","t":39,"p":0.0209,"c":1},{"g":"ИХП","t":41,"p":0.0209,"c":1},{"g":"ИХП","t":42,"p":0.0209,"c":1},{"g":"ИХП","t":44,"p":0.0209,"c":1},{"g":"ИХП","t":50,"p":0.0209,"c":1},{"g":"ИХП","t":53,"p":0.0209,"c":1},
   {"g":"Все","t":0,"p":0,"c":1},{"g":"Все","t":0.5,"p":0,"c":1},{"g":"Все","t":1,"p":0,"c":1},{"g":"Все","t":1.5,"p":0,"c":1},{"g":"Все","t":2,"p":0,"c":1},{"g":"Все","t":2.5,"p":0,"c":1},{"g":"Все","t":3.5,"p":0.0012,"c":1},{"g":"Все","t":4.2,"p":0.0045,"c":1},{"g":"Все","t":4.6,"p":0.0045,"c":1},{"g":"Все","t":4.8,"p":0.0058,"c":1},{"g":"Все","t":5.2,"p":0.0068,"c":1},{"g":"Все","t":5.9,"p":0.0084,"c":1},{"g":"Все","t":6.4,"p":0.0084,"c":1},{"g":"Все","t":7,"p":0.0092,"c":1},{"g":"Все","t":7.8,"p":0.0101,"c":1},{"g":"Все","t":8.4,"p":0.0132,"c":1},{"g":"Все","t":9.5,"p":0.0156,"c":1},{"g":"Все","t":10,"p":0.0156,"c":1},{"g":"Все","t":10.5,"p":0.0156,"c":1},{"g":"Все","t":11,"p":0.0156,"c":1},{"g":"Все","t":11.5,"p":0.0156,"c":1},{"g":"Все","t":12,"p":0.0173,"c":1},{"g":"Все","t":13,"p":0.0193,"c":1},{"g":"Все","t":13.5,"p":0.0193,"c":1},{"g":"Все","t":14,"p":0.0193,"c":1},{"g":"Все","t":15,"p":0.0193,"c":1},{"g":"Все","t":16,"p":0.0193,"c":1},{"g":"Все","t":17,"p":0.0193,"c":1},{"g":"Все","t":18,"p":0.0193,"c":1},{"g":"Все","t":19,"p":0.0193,"c":1},{"g":"Все","t":20,"p":0.0193,"c":1},{"g":"Все","t":21,"p":0.0193,"c":1},{"g":"Все","t":22,"p":0.0193,"c":1},{"g":"Все","t":23,"p":0.0193,"c":1},{"g":"Все","t":24,"p":0.0193,"c":1},{"g":"Все","t":25,"p":0.0193,"c":1},{"g":"Все","t":26,"p":0.0193,"c":1},{"g":"Все","t":27,"p":0.0193,"c":1},{"g":"Все","t":28,"p":0.0193,"c":1},{"g":"Все","t":29,"p":0.0193,"c":1},{"g":"Все","t":30,"p":0.0193,"c":1},{"g":"Все","t":31,"p":0.0193,"c":1},{"g":"Все","t":32,"p":0.0193,"c":1},{"g":"Все","t":33,"p":0.0193,"c":1},{"g":"Все","t":34,"p":0.0193,"c":1},{"g":"Все","t":39,"p":0.0193,"c":1},{"g":"Все","t":41,"p":0.0193,"c":1},{"g":"Все","t":42,"p":0.0193,"c":1},{"g":"Все","t":43,"p":0.0193,"c":1},{"g":"Все","t":50,"p":0.0193,"c":1},{"g":"Все","t":53,"p":0.0193,"c":1}
  ]
 },
 "concat": [
  {"width":324,"height":326,"data":{"name":"A"},"title":{"text":"A","dx":21,"dy":38},
   "layer":[
    {"mark":"line","encoding":{
      "x":{"field":"t","type":"quantitative","scale":{"domain":[-2.7,52.7],"nice":false,"zero":false},"axis":{"values":[0,10,20,30,40,50],"labelExpr":"datum.value == 0 ? '.0' : format(datum.value, '.1f')","title":"Годы от начала ХП","titleFontSize":28,"titleX":156,"titleY":50}},
      "y":{"field":"p","type":"quantitative","scale":{"domain":[-0.055,1.058],"nice":false,"zero":false},"axis":{"values":[0,0.2,0.4,0.6,0.8,1],"format":".1f","title":null}},
      "color":{"field":"g","type":"nominal","scale":{"domain":["Все","ИХП","АХП"]},"legend":{"orient":"none","title":null,"legendX":237,"legendY":261,"symbolType":"M-1.7,0.5H-0.5V-0.5H1.3V0.15","encode":{"symbols":{"update":{"strokeWidth":{"signal":"datum.value === 'Все' ? 2.5 : 1"},"stroke":{"signal":"datum.value === 'Все' ? '#e3232c' : datum.value === 'ИХП' ? '#4262b0' : '#3aab48'"}}}}}}}},
    {"transform":[{"filter":"datum.c == 1"}],"mark":"point","encoding":{
      "x":{"field":"t","type":"quantitative"},"y":{"field":"p","type":"quantitative"},
      "stroke":{"field":"g","type":"nominal","scale":{"domain":["Все","ИХП","АХП"]},"legend":null}}}
   ]},
  {"width":324,"height":326,"data":{"name":"B"},"title":{"text":"B","dx":24,"dy":38},
   "layer":[
    {"mark":"line","encoding":{
      "x":{"field":"t","type":"quantitative","scale":{"domain":[-3.29,63.3],"nice":false,"zero":false},"axis":{"values":[0,10,20,30,40,50,60],"labelExpr":"datum.value == 0 ? '.0' : format(datum.value, '.1f')","title":"Годы от начала ХП","titleFontSize":28,"titleX":164,"titleY":50}},
      "y":{"field":"p","type":"quantitative","scale":{"domain":[-0.055,1.058],"nice":false,"zero":false},"axis":{"values":[0,0.2,0.4,0.6,0.8,1],"format":".1f","title":null}},
      "color":{"field":"g","type":"nominal","scale":{"domain":["Все","ИХП","АХП"]},"legend":{"orient":"none","title":null,"legendX":234,"legendY":255,"symbolType":"M-1.7,0.5H-0.5V-0.5H1.3V0.15","encode":{"symbols":{"update":{"strokeWidth":{"signal":"datum.value === 'Все' ? 2.5 : 1"},"stroke":{"signal":"datum.value === 'Все' ? '#e3232c' : datum.value === 'ИХП' ? '#4262b0' : '#3aab48'"}}}}}}}},
    {"transform":[{"filter":"datum.c == 1"}],"mark":"point","encoding":{
      "x":{"field":"t","type":"quantitative"},"y":{"field":"p","type":"quantitative"},
      "stroke":{"field":"g","type":"nominal","scale":{"domain":["Все","ИХП","АХП"]},"legend":null}}}
   ]},
  {"width":324,"height":326,"data":{"name":"C"},"title":{"text":"C","dx":26,"dy":38},
   "layer":[
    {"mark":"line","encoding":{
      "x":{"field":"t","type":"quantitative","scale":{"domain":[-2.74,52.74],"nice":false,"zero":false},"axis":{"values":[0,10,20,30,40,50],"labelExpr":"datum.value == 0 ? '.0' : format(datum.value, '.1f')","title":"Годы от начала ХП","titleFontSize":28,"titleX":174,"titleY":50}},
      "y":{"field":"p","type":"quantitative","scale":{"domain":[-0.055,1.058],"nice":false,"zero":false},"axis":{"values":[0,0.2,0.4,0.6,0.8,1],"format":".1f","title":null}},
      "color":{"field":"g","type":"nominal","scale":{"domain":["Все","ИХП","АХП"]},"legend":{"orient":"none","title":null,"legendX":236,"legendY":255,"symbolType":"M-1.7,0.5H-0.5V-0.5H1.3V0.15","encode":{"symbols":{"update":{"strokeWidth":{"signal":"datum.value === 'Все' ? 2.5 : 1"},"stroke":{"signal":"datum.value === 'Все' ? '#e3232c' : datum.value === 'ИХП' ? '#4262b0' : '#3aab48'"}}}}}}}},
    {"transform":[{"filter":"datum.c == 1"}],"mark":"point","encoding":{
      "x":{"field":"t","type":"quantitative"},"y":{"field":"p","type":"quantitative"},
      "stroke":{"field":"g","type":"nominal","scale":{"domain":["Все","ИХП","АХП"]},"legend":null}}}
   ]},
  {"width":324,"height":326,"data":{"name":"D"},"title":{"text":"D","dx":21,"dy":42},
   "layer":[
    {"mark":"line","encoding":{
      "x":{"field":"t","type":"quantitative","scale":{"domain":[-3.84,73.9],"nice":false,"zero":false},"axis":{"values":[0,20,40,60],"labelExpr":"datum.value == 0 ? '.0' : format(datum.value, '.1f')","title":"Годы от начала ХП","titleFontSize":23,"titleX":170,"titleY":41,"tickSize":5,"labelPadding":2}},
      "y":{"field":"p","type":"quantitative","scale":{"domain":[-0.055,1.062],"nice":false,"zero":false},"axis":{"values":[0,0.2,0.4,0.6,0.8,1],"format":".1f","title":null}},
      "color":{"field":"g","type":"nominal","scale":{"domain":["Все","ИХП","АХП"]},"legend":{"orient":"none","title":null,"legendX":236,"legendY":256,"symbolType":"M-1.7,0.5H-0.5V-0.5H1.3V0.15","encode":{"symbols":{"update":{"strokeWidth":{"signal":"datum.value === 'Все' ? 2.5 : 1"},"stroke":{"signal":"datum.value === 'Все' ? '#e3232c' : datum.value === 'ИХП' ? '#4262b0' : '#3aab48'"}}}}}}}},
    {"transform":[{"filter":"datum.c == 1"}],"mark":"point","encoding":{
      "x":{"field":"t","type":"quantitative"},"y":{"field":"p","type":"quantitative"},
      "stroke":{"field":"g","type":"nominal","scale":{"domain":["Все","ИХП","АХП"]},"legend":null}}}
   ]},
  {"width":324,"height":326,"data":{"name":"E"},"title":{"text":"E","dx":28,"dy":42},
   "layer":[
    {"mark":"line","encoding":{
      "x":{"field":"t","type":"quantitative","scale":{"domain":[-3.29,63.3],"nice":false,"zero":false},"axis":{"values":[0,10,20,30,40,50,60],"labelExpr":"datum.value == 0 ? '.0' : format(datum.value, '.1f')","title":"Годы от начала ХП","titleFontSize":23,"titleX":166,"titleY":41,"tickSize":5,"labelPadding":2}},
      "y":{"field":"p","type":"quantitative","scale":{"domain":[-0.055,1.062],"nice":false,"zero":false},"axis":{"values":[0,0.2,0.4,0.6,0.8,1],"format":".1f","title":null}},
      "color":{"field":"g","type":"nominal","scale":{"domain":["Все","ИХП","АХП"]},"legend":{"orient":"none","title":null,"legendX":235,"legendY":259,"symbolType":"M-1.7,0.5H-0.5V-0.5H1.3V0.15","encode":{"symbols":{"update":{"strokeWidth":{"signal":"datum.value === 'Все' ? 2.5 : 1"},"stroke":{"signal":"datum.value === 'Все' ? '#e3232c' : datum.value === 'ИХП' ? '#4262b0' : '#3aab48'"}}}}}}}},
    {"transform":[{"filter":"datum.c == 1"}],"mark":"point","encoding":{
      "x":{"field":"t","type":"quantitative"},"y":{"field":"p","type":"quantitative"},
      "stroke":{"field":"g","type":"nominal","scale":{"domain":["Все","ИХП","АХП"]},"legend":null}}}
   ]},
  {"width":324,"height":326,"data":{"name":"F"},"title":{"text":"F","dx":40,"dy":42},
   "layer":[
    {"mark":"line","encoding":{
      "x":{"field":"t","type":"quantitative","scale":{"domain":[-4.84,63.37],"nice":false,"zero":false},"axis":{"values":[0,10,20,30,40,50,60],"labelExpr":"datum.value == 0 ? '.00' : format(datum.value, '.2f')","title":"Годы от начала ХП","titleFontSize":23,"titleX":185,"titleY":41,"tickSize":5,"labelPadding":2}},
      "y":{"field":"p","type":"quantitative","scale":{"domain":[-0.00274,0.05308],"nice":false,"zero":false},"axis":{"values":[0,0.01,0.02,0.03,0.04,0.05],"format":".2f","title":null}},
      "color":{"field":"g","type":"nominal","scale":{"domain":["Все","ИХП","АХП"]},"legend":{"orient":"none","title":null,"legendX":239,"legendY":261,"symbolType":"M-1.7,0.5L-0.5,0.5L-0.5,-0.5L1.3,-0.5L1.3,0.2","symbolOpacity":1,"symbolStrokeColor":"#e3232c","encode":{"symbols":{"update":{"opacity":{"value":1},"strokeOpacity":{"value":1},"strokeWidth":{"signal":"datum.value === 'Все' ? 2.5 : 1"},"stroke":{"signal":"datum.value === 'Все' ? '#e3232c' : datum.value === 'ИХП' ? '#4262b0' : '#3aab48'"}}}}}}}},
    {"transform":[{"filter":"datum.c == 1"}],"mark":"point","encoding":{
      "x":{"field":"t","type":"quantitative"},"y":{"field":"p","type":"quantitative"},
      "stroke":{"field":"g","type":"nominal","scale":{"domain":["Все","ИХП","АХП"]},"legend":null}}}
   ]}
 ],
 "config": {
  "view": {"fill": "#eeeeee", "stroke": "#666666", "strokeWidth": 1.5},
  "range": {"category": ["#e3232c", "#4262b0", "#3aab48"]},
  "line": {"interpolate": "step-after", "strokeWidth": 1},
  "point": {"shape": "M-1,0H1M0,-1V1", "filled": false, "size": 36, "strokeWidth": 1.2},
  "axis": {"grid": false, "domain": false, "tickColor": "#555555", "tickSize": 6, "labelColor": "#555555", "labelFont": "Liberation Sans", "labelFontSize": 13, "labelPadding": 3, "titleFont": "Liberation Serif", "titleFontWeight": "bold", "titleColor": "#000000", "titleBaseline": "alphabetic", "titleAlign": "center"},
  "title": {"font": "Liberation Sans", "fontWeight": "bold", "fontSize": 21, "anchor": "start", "frame": "group", "offset": 0, "baseline": "alphabetic", "color": "#111111"},
  "legend": {"fillColor": "white", "padding": 4, "rowPadding": 0, "symbolSize": 144, "symbolStrokeWidth": 1, "symbolFillColor": "transparent", "labelFont": "Liberation Serif", "labelFontWeight": "bold", "labelFontSize": 13, "labelColor": "#111111", "labelAlign": "left", "labelOffset": 8, "labelLimit": 100}
 }
}
